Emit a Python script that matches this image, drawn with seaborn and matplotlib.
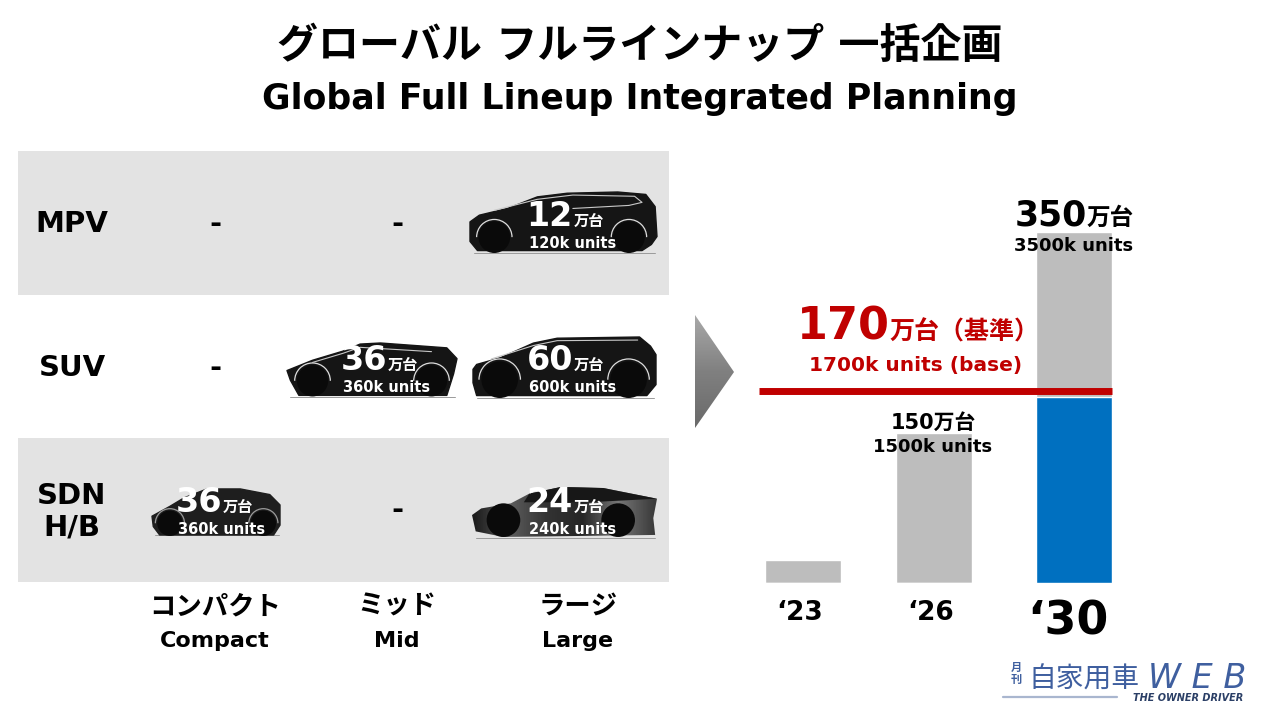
import matplotlib
matplotlib.use('Agg')
import matplotlib.pyplot as plt
import seaborn as sns
import pandas as pd
from matplotlib.colors import LinearSegmentedColormap
from matplotlib.patches import Polygon, Circle, Arc
from matplotlib.transforms import ScaledTranslation

# table values (万台), None = no vehicle
segments = ['MPV', 'SUV', 'SDN\nH/B']
sizes_jp = ['コンパクト', 'ミッド', 'ラージ']
sizes_en = ['Compact', 'Mid', 'Large']
mpv_units = [None, None, 12]
suv_units = [None, 36, 60]
sdn_units = [36, None, 24]
row_shade = [[1], [0], [1]]

# bars, heights
years = ['‘23', '‘26', '‘30']
total_bar = [23, 150, 351]
base_bar = [0, 0, 186]
base_line = 192

sns.set_theme(style='white')
plt.rcParams['font.family'] = ['DejaVu Sans', 'Noto Sans CJK JP']
plt.rcParams['font.weight'] = 'bold'

W, H = 1280, 720
fig = plt.figure(figsize=(12.8, 7.2), dpi=100)
fig.patch.set_facecolor('white')


def px_axes(x0, y0, x1, y1):
    return fig.add_axes([x0 / W, 1 - y1 / H, (x1 - x0) / W, (y1 - y0) / H])


# grey bands behind the table
table_ax = px_axes(18, 151, 669, 582)
sns.heatmap(row_shade, cmap=['#ffffff', '#e3e3e3'], cbar=False, xticklabels=False,
            yticklabels=False, ax=table_ax)

# bars, one axis unit is one pixel
bar_ax = px_axes(680, 150, 1160, 583)
bar_ax.patch.set_alpha(0)
bar_centres = [803, 934, 1074]
df = pd.DataFrame({'x': bar_centres, 'total': total_bar, 'base': base_bar})
sns.barplot(data=df, x='x', y='total', native_scale=True, color='#bdbdbd', saturation=1,
            width=76 / 131, errorbar=None, ax=bar_ax)
sns.barplot(data=df, x='x', y='base', native_scale=True, color='#0070c0', saturation=1,
            width=76 / 131, errorbar=None, ax=bar_ax)
bar_ax.hlines(base_line, 759, 1112, color='#c00000', lw=5, zorder=5)
bar_ax.set_xlim(680, 1160)
bar_ax.set_ylim(0, 433)
bar_ax.set_xlabel('')
bar_ax.set_ylabel('')
bar_ax.set_yticks([])
bar_ax.set_xticks(bar_centres)
bar_ax.set_xticklabels(years)
bar_ax.tick_params(axis='x', length=0, pad=12)
for lab, fs, shift in zip(bar_ax.get_xticklabels(), [19, 19, 33], [-3, -3, -6]):
    lab.set_fontsize(fs)
    lab.set_fontweight('bold')
    lab.set_color('black')
    lab.set_transform(lab.get_transform() + ScaledTranslation(shift / 100, 0, fig.dpi_scale_trans))
sns.despine(ax=bar_ax, left=True, bottom=True)

# overlay in pixels for text and the drawings
ov = px_axes(0, 0, W, H)
ov.patch.set_alpha(0)
ov.axis('off')


def label(x, y, s, size, color='black', ha='center', va='baseline', **kw):
    ov.text(x, y, s, fontsize=size, color=color, ha=ha, va=va, **kw)


def gradient_fill(patch, extent, colors, vertical=False, zorder=2):
    # image clipped to the patch, the patch itself only gives the shape
    cells = [[i / 40] for i in range(41)] if vertical else [[i / 40 for i in range(41)]]
    cmap = LinearSegmentedColormap.from_list('fill', colors)
    im = ov.imshow(cells, extent=extent, cmap=cmap, vmin=0, vmax=1, aspect='auto', zorder=zorder,
                   interpolation='bilinear')
    ov.add_patch(patch)
    im.set_clip_path(patch)


def draw_car(box, outline, wheels, trim=None, color='#151515', edge='#dddddd', shades=None, roof=None):
    x0, y0, x1, y1 = box
    w, h = x1 - x0, y1 - y0
    pts = [(x0 + a * w, y0 + b * h) for a, b in outline]
    body = Polygon(pts, closed=True, fc=color, ec=color, lw=1, joinstyle='round', zorder=2)
    if shades:
        body.set_facecolor('none')
        body.set_edgecolor('none')
        gradient_fill(body, (x0, x1, y1, y0), shades)
    else:
        ov.add_patch(body)
    if roof:
        ov.add_patch(Polygon([(x0 + a * w, y0 + b * h) for a, b in roof], closed=True,
                             fc='#171717', ec='none', zorder=2.05))
    cx1, cx2, cy, r, ra = wheels
    for cx in (cx1, cx2):
        c = (x0 + cx * w, y0 + cy * h)
        ov.add_patch(Circle(c, r * h, fc='#0a0a0a', ec='none', zorder=2.1))
        if edge:
            ov.add_patch(Arc(c, 2 * ra * h, 2 * ra * h, theta1=180, theta2=360, ec=edge, lw=0.9, zorder=2.2))
    if trim:
        ov.plot([x0 + a * w for a, b in trim], [y0 + b * h for a, b in trim],
                color='#c8c8c8', lw=0.8, zorder=2.2)
    ov.plot([x0 + 0.02 * w, x1 - 0.01 * w], [y1, y1], color='#9a9a9a', lw=0.7, zorder=1.9)


mpv_shape = [(0, .49), (.05, .38), (.2, .27), (.36, .08), (.52, .02), (.79, 0), (.94, .04), (.99, .24),
             (1, .73), (.97, .86), (.92, .96), (.04, .96), (0, .81)]
mpv_trim = [(.13, .3), (.36, .12), (.55, .05), (.88, .07), (.92, .17), (.85, .22), (.55, .27)]
large_suv_shape = [(0, .53), (.02, .45), (.15, .34), (.33, .1), (.46, .02), (.91, 0), (.97, .15), (1, .29),
                   (1, .78), (.95, .96), (.02, .96), (0, .75)]
large_suv_trim = [(.1, .36), (.33, .14), (.46, .06), (.9, .05)]
mid_suv_shape = [(0, .51), (.15, .32), (.33, .15), (.43, .02), (.55, 0), (.94, .09), (1, .29), (.98, .57),
                 (.94, .97), (.07, .97), (.02, .69)]
mid_suv_trim = [(.15, .36), (.33, .19), (.43, .08), (.85, .16)]
compact_shape = [(0, .6), (.14, .39), (.25, .21), (.43, .02), (.69, .02), (.92, .14), (1, .36), (1, .79),
                 (.95, 1), (.06, 1), (.01, .82)]
sedan_shape = [(0, .55), (.05, .42), (.21, .32), (.31, .13), (.48, 0), (.71, .02), (1, .23), (.98, .61),
               (.99, .94), (.17, .98), (.02, .87)]
sedan_roof = [(.31, .13), (.48, 0), (.71, .02), (1, .23), (.62, .3), (.28, .3)]

draw_car((470, 192, 657, 253), mpv_shape, (.13, .85, .74, .26, .29), mpv_trim)
draw_car((287, 343, 457, 397), mid_suv_shape, (.15, .85, .7, .29, .33), mid_suv_trim)
draw_car((473, 337, 656, 398), large_suv_shape, (.146, .85, .7, .3, .34), large_suv_trim)
draw_car((152, 488, 280, 535), compact_shape, (.14, .87, .75, .27, .31), color='#1e1e1e', edge='#9a9a9a')
draw_car((472, 487, 657, 538), sedan_shape, (.17, .79, .65, .33, .35), edge=None, roof=sedan_roof,
         shades=['#1c1c1c', '#5c5c5c', '#333333', '#262626', '#777777', '#3a3a3a'])

# titles
label(640, 47, 'グローバル フルラインナップ 一括企画', 29.5, va='center')
label(640, 99, 'Global Full Lineup Integrated Planning', 25, va='center')

# table text
row_y = [224, 368, 510]
col_x = [215, 397, 578]
cell_x = [222, 387, 573]
label(72, row_y[0], segments[0], 21, va='center')
label(72, row_y[1], segments[1], 21, va='center')
label(72, 512, segments[2], 21, va='center', linespacing=1.15)

for y, units in zip(row_y, [mpv_units, suv_units, sdn_units]):
    for c, v in enumerate(units):
        if v is None:
            label(col_x[c], y, '-', 21, va='center', zorder=4)
        else:
            label(cell_x[c], y + 2, str(v), 24, color='white', ha='right', zorder=4)
            label(cell_x[c] + 1, y + 2, '万台', 11, color='white', ha='left', zorder=4)
            label(cell_x[c], y + 24, f'{v * 10}k units', 10.5, color='white', zorder=4)

for x, jp, en in zip(col_x, sizes_jp, sizes_en):
    label(x, 607, jp, 19, va='center')
    label(x, 641, en, 16, va='center')

# arrow, lighter at the top
arrow = Polygon([(695, 315), (734, 372), (695, 428)], closed=True, fc='none', ec='none')
gradient_fill(arrow, (695, 734, 428, 315), ['#a8a8a8', '#808080', '#6a6a6a'], vertical=True)

# bar labels
label(1087, 225, '350', 25, ha='right')
label(1087, 225, '万台', 17, ha='left')
label(1074, 251, '3500k units', 13)
label(890, 340, '170', 32, color='#c00000', ha='right')
label(890, 340, '万台（基準）', 18, color='#c00000', ha='left')
label(1022, 371, '1700k units (base)', 14.5, color='#c00000', ha='right')
label(933, 429, '150万台', 15)
label(933, 452, '1500k units', 13)

# logo
logo = '#3f5f9f'
label(1016, 668, '月', 8, color=logo, va='center')
label(1016, 680, '刊', 8, color=logo, va='center')
label(1084, 680, '自家用車', 20, color=logo, va='center', fontweight='normal')
label(1197, 688, 'W E B', 24, color=logo, fontweight='normal', style='oblique')
label(1243, 701, 'THE OWNER DRIVER', 7, color='#2b3f66', ha='right', style='oblique')
ov.plot([1003, 1117], [697, 697], color='#a9b6cf', lw=1.6)

ov.set_xlim(0, W)
ov.set_ylim(H, 0)

fig.savefig('out.png', dpi=100)
